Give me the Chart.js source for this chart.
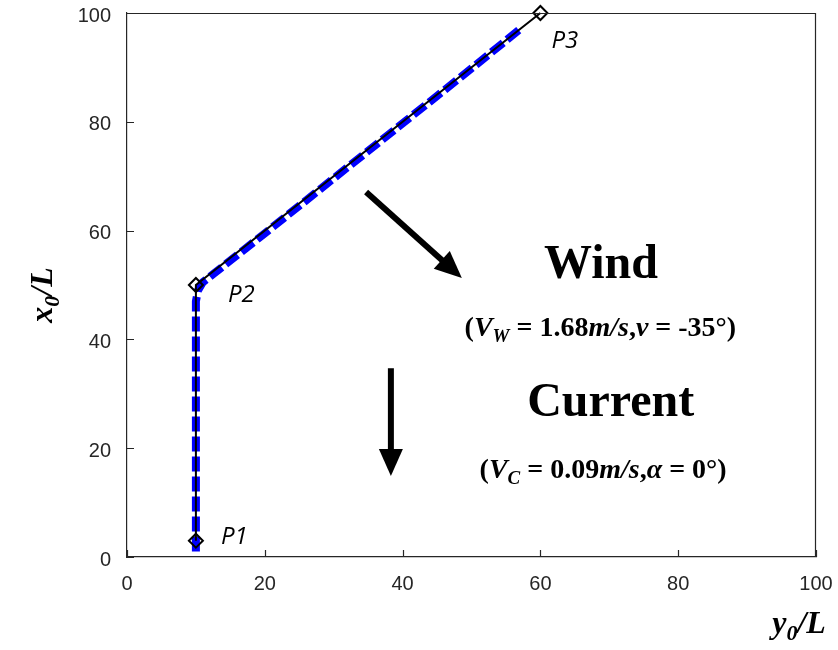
<!DOCTYPE html>
<html>
<head>
<meta charset="utf-8">
<script src="https://cdn.jsdelivr.net/npm/chart.js@4.4.1/dist/chart.umd.min.js"></script>
<style>
  html, body { margin: 0; padding: 0; background: #fff; }
  #wrap { width: 838px; height: 650px; }
</style>
</head>
<body>
<div id="wrap"><canvas id="pathChart" width="838" height="650"></canvas></div>
<script>
// ---- data ----
const xTicks = [0, 20, 40, 60, 80, 100];
const yTicks = [0, 20, 40, 60, 80, 100];

// reference waypoints P1 -> P2 -> P3  (x = y0/L, y = x0/L)
const waypointNames = ['P1', 'P2', 'P3'];
const waypointX = [10, 10, 60];
const waypointY = [3, 50, 100];

// simulated track (blue dashed)
const trackX = [10, 10, 10.3, 11, 12.5, 20, 30, 40, 50, 57.3];
const trackY = [1, 47, 49, 50.5, 52, 59.5, 69.6, 79.7, 89.8, 97.3];

// arrows: [start, tip]
const windArrowX = [34.7, 48.6];
const windArrowY = [67.1, 51.3];
const currentArrowX = [38.3, 38.3];
const currentArrowY = [34.7, 14.9];

const toPoints = (xs, ys) => xs.map((x, i) => ({ x, y: ys[i] }));

// ---- text helpers ----
const SERIF = '"Liberation Serif", "Times New Roman", serif';
const AXIS_COLOR = '#262626';

function partFont(p, size) {
  const s = p.sub ? Math.round(size * 0.68) : size;
  return `${p.italic ? 'italic ' : ''}bold ${s}px ${SERIF}`;
}

// draw a line of mixed-style text centred on (cx, baseline cy)
function drawRich(ctx, parts, cx, cy, size) {
  let w = 0;
  parts.forEach(p => { ctx.font = partFont(p, size); w += ctx.measureText(p.t).width; });
  let x = cx - w / 2;
  ctx.textAlign = 'left';
  ctx.textBaseline = 'alphabetic';
  parts.forEach(p => {
    ctx.font = partFont(p, size);
    ctx.fillText(p.t, x, cy + (p.sub ? size * 0.22 : 0));
    x += ctx.measureText(p.t).width;
  });
}

function drawArrow(ctx, x1, y1, x2, y2) {
  const ang = Math.atan2(y2 - y1, x2 - x1);
  const c = Math.cos(ang), s = Math.sin(ang);
  const headLen = 27, headW = 12;
  ctx.save();
  ctx.strokeStyle = '#000';
  ctx.fillStyle = '#000';
  ctx.lineWidth = 6;
  ctx.beginPath();
  ctx.moveTo(x1, y1);
  ctx.lineTo(x2 - headLen * c * 0.9, y2 - headLen * s * 0.9);
  ctx.stroke();
  ctx.beginPath();
  ctx.moveTo(x2, y2);
  ctx.lineTo(x2 - headLen * c + headW * s, y2 - headLen * s - headW * c);
  ctx.lineTo(x2 - headLen * c - headW * s, y2 - headLen * s + headW * c);
  ctx.closePath();
  ctx.fill();
  ctx.restore();
}

// box + inward ticks, MATLAB style
const boxPlugin = {
  id: 'box',
  afterDatasetsDraw(chart) {
    const { ctx, chartArea: a, scales: { x, y } } = chart;
    ctx.save();
    ctx.strokeStyle = AXIS_COLOR;
    ctx.lineWidth = 1.2;
    ctx.beginPath();
    ctx.moveTo(a.left, a.top + 0.5); ctx.lineTo(a.right, a.top + 0.5);
    ctx.moveTo(a.right - 0.5, a.top); ctx.lineTo(a.right - 0.5, a.bottom);
    xTicks.forEach(v => {
      const px = Math.round(x.getPixelForValue(v)) + 0.5;
      ctx.moveTo(px, a.bottom); ctx.lineTo(px, a.bottom - 7);
    });
    yTicks.forEach(v => {
      const py = Math.round(y.getPixelForValue(v)) + 0.5;
      ctx.moveTo(a.left, py); ctx.lineTo(a.left + 7, py);
    });
    ctx.stroke();
    ctx.restore();
  }
};

const notesPlugin = {
  id: 'notes',
  afterDraw(chart) {
    const { ctx, scales: { x, y } } = chart;
    const px = v => x.getPixelForValue(v);
    const py = v => y.getPixelForValue(v);

    drawArrow(ctx, px(windArrowX[0]), py(windArrowY[0]), px(windArrowX[1]), py(windArrowY[1]));
    drawArrow(ctx, px(currentArrowX[0]), py(currentArrowY[0]), px(currentArrowX[1]), py(currentArrowY[1]));

    ctx.save();
    ctx.fillStyle = '#000';
    drawRich(ctx, [{ t: 'Wind' }], px(68.8), py(51.3), 48);
    drawRich(ctx, [
      { t: '(' }, { t: 'V', italic: true }, { t: 'W', italic: true, sub: true },
      { t: ' = 1.68' }, { t: 'm/s', italic: true }, { t: ',' }, { t: 'v', italic: true }, { t: ' = -35°)' }
    ], px(68.7), py(40.6), 28);
    drawRich(ctx, [{ t: 'Current' }], px(70.2), py(25.9), 48);
    drawRich(ctx, [
      { t: '(' }, { t: 'V', italic: true }, { t: 'C', italic: true, sub: true },
      { t: ' = 0.09' }, { t: 'm/s', italic: true }, { t: ',' }, { t: 'α', italic: true }, { t: ' = 0°)' }
    ], px(69.1), py(14.5), 28);

    // waypoint labels
    const labelOffset = [[25, 3], [32, 17], [11, 35]];
    ctx.font = 'italic 24px "Open Sans", "DejaVu Sans", sans-serif';
    ctx.textAlign = 'left';
    ctx.textBaseline = 'alphabetic';
    waypointNames.forEach((n, i) => {
      ctx.fillText(n, px(waypointX[i]) + labelOffset[i][0], py(waypointY[i]) + labelOffset[i][1]);
    });

    // axis titles
    drawRich(ctx, [{ t: 'y', italic: true }, { t: '0', italic: true, sub: true }, { t: '/L', italic: true }], 799, 633, 32);
    ctx.translate(52, 295);
    ctx.rotate(-Math.PI / 2);
    drawRich(ctx, [{ t: 'x', italic: true }, { t: '0', italic: true, sub: true }, { t: '/L', italic: true }], 0, 0, 32);
    ctx.restore();
  }
};

const tickFont = { family: '"Liberation Sans", Arial, sans-serif', size: 20 };

// pin the axis boxes so the plot area lands where the original one is
function fixBox(s, size) {
  if (s.isHorizontal()) s.height = size; else s.width = size;
  s.paddingTop = 0; s.paddingBottom = 0; s.paddingLeft = 0; s.paddingRight = 0;
}

new Chart(document.getElementById('pathChart'), {
  type: 'scatter',
  data: {
    datasets: [
      {
        label: 'Reference path',
        data: toPoints(waypointX, waypointY),
        showLine: true,
        clip: false,
        borderColor: '#000',
        borderWidth: 2,
        pointStyle: 'rectRot',
        pointRadius: 7,
        pointBorderWidth: 2,
        pointBorderColor: '#000',
        pointBackgroundColor: 'rgba(0,0,0,0)',
        tension: 0,
      },
      {
        label: 'Track',
        data: toPoints(trackX, trackY),
        showLine: true,
        borderColor: '#0000ff',
        borderWidth: 8,
        borderDash: [15, 5],
        pointRadius: 0,
        tension: 0,
      },
    ],
  },
  options: {
    responsive: false,
    animation: false,
    layout: { autoPadding: false, padding: { top: 13, right: 22, left: 0, bottom: 0 } },
    plugins: { legend: { display: false }, tooltip: { enabled: false } },
    scales: {
      x: {
        type: 'linear',
        min: 0, max: 100,
        afterBuildTicks: s => { s.ticks = xTicks.map(v => ({ value: v })); },
        afterFit: s => fixBox(s, 93),
        grid: { display: false },
        border: { display: true, color: AXIS_COLOR, width: 1.2 },
        ticks: { color: AXIS_COLOR, font: tickFont, padding: 7, maxRotation: 0 },
      },
      y: {
        type: 'linear',
        min: 0, max: 100,
        afterBuildTicks: s => { s.ticks = yTicks.map(v => ({ value: v })); },
        afterFit: s => fixBox(s, 127),
        grid: { display: false },
        border: { display: true, color: AXIS_COLOR, width: 1.2 },
        ticks: { color: AXIS_COLOR, font: tickFont, padding: 8, labelOffset: 3 },
      },
    },
  },
  plugins: [boxPlugin, notesPlugin],
});
</script>
</body>
</html>
